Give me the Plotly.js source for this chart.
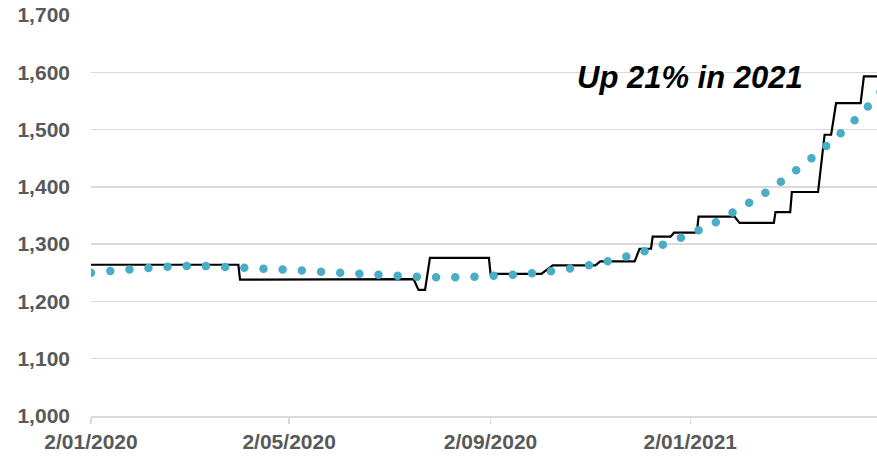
<!DOCTYPE html>
<html>
<head>
<meta charset="utf-8">
<script src="https://cdn.plot.ly/plotly-3.0.1.min.js"></script>
<style>
  html, body { margin: 0; padding: 0; background: #ffffff; }
  #chart { width: 877px; height: 457px; }
  .scatterlayer .js-line { stroke-linecap: round; }
</style>
</head>
<body>
<div id="chart"></div>
<script>
// Black step series (price level)
const stepDates = [
  '2020-01-02', '2020-04-01', '2020-04-02', '2020-07-17', '2020-07-20', '2020-07-24',
  '2020-07-27', '2020-09-01', '2020-09-02', '2020-10-03', '2020-10-10', '2020-11-05',
  '2020-11-08', '2020-11-29', '2020-12-02', '2020-12-09', '2020-12-10', '2020-12-21',
  '2020-12-23', '2021-01-06', '2021-01-07', '2021-01-29', '2021-02-01', '2021-02-22',
  '2021-02-23', '2021-03-04', '2021-03-05', '2021-03-21', '2021-03-25', '2021-03-29',
  '2021-04-01', '2021-04-16', '2021-04-18', '2021-04-30'
];
const stepValues = [
  1264, 1264, 1238, 1239, 1220, 1220,
  1276, 1276, 1248, 1248, 1263, 1263,
  1270, 1270, 1292, 1292, 1313, 1313,
  1320, 1320, 1348, 1348, 1337, 1337,
  1356, 1356, 1391, 1391, 1491, 1491,
  1546, 1546, 1593, 1593
];

// Blue dotted trend series
const trendDates = [
  '2020-01-02', '2020-02-02', '2020-03-02', '2020-04-02', '2020-05-02', '2020-06-02',
  '2020-07-02', '2020-08-02', '2020-09-02', '2020-10-02', '2020-11-02', '2020-12-02',
  '2021-01-02', '2021-01-17', '2021-02-02', '2021-02-16', '2021-03-02', '2021-03-17',
  '2021-04-02', '2021-04-16', '2021-04-30'
];
const trendValues = [
  1250, 1257.5, 1262, 1259, 1255, 1250,
  1245.5, 1242, 1244.5, 1250.5, 1263.5, 1285,
  1318, 1337.5, 1364, 1388, 1417, 1450,
  1489, 1527, 1572
];

// Axis ticks
const tickDates = ['2020-01-02', '2020-05-02', '2020-09-02', '2021-01-02'];
const tickLabels = ['2/01/2020', '2/05/2020', '2/09/2020', '2/01/2021'];
const yTicks = [1000, 1100, 1200, 1300, 1400, 1500, 1600, 1700];

const annotationText = 'Up 21% in 2021';

const traces = [
  {
    x: stepDates, y: stepValues, type: 'scatter', mode: 'lines',
    line: { color: '#000000', width: 2.2 },
    hoverinfo: 'skip', showlegend: false
  },
  {
    x: trendDates, y: trendValues, type: 'scatter', mode: 'lines',
    line: { color: '#4BACC6', width: 8.5, dash: '0px,19.2px', shape: 'spline', smoothing: 1 },
    hoverinfo: 'skip', showlegend: false
  }
];

const tickFont = { family: '"Liberation Sans", Arial, sans-serif', size: 21, color: '#595959', weight: 'bold' };

const layout = {
  width: 877, height: 457,
  margin: { l: 91, r: 0, t: 15, b: 41 },
  paper_bgcolor: '#ffffff', plot_bgcolor: '#ffffff',
  showlegend: false,
  xaxis: {
    type: 'date',
    range: ['2020-01-02', '2021-04-26'],
    tickmode: 'array', tickvals: tickDates, ticktext: tickLabels,
    ticks: 'outside', ticklen: 6, tickwidth: 1.5, tickcolor: '#d9d9d9',
    showgrid: false, zeroline: false,
    showline: true, linecolor: '#d9d9d9', linewidth: 1.5,
    tickfont: tickFont, tickangle: 0
  },
  yaxis: {
    range: [1000, 1700],
    tickmode: 'array', tickvals: yTicks,
    tickformat: ',d',
    showgrid: true, gridcolor: '#d9d9d9', gridwidth: 1.5,
    zeroline: false, showline: false, ticks: '',
    ticklabelstandoff: 20,
    tickfont: tickFont
  },
  annotations: [{
    x: '2021-01-02', y: 1591, xref: 'x', yref: 'y',
    text: annotationText, showarrow: false,
    font: { family: '"Liberation Sans", Arial, sans-serif', size: 31, color: '#000000', weight: 'bold', style: 'italic' },
    xanchor: 'center', yanchor: 'middle'
  }]
};

Plotly.newPlot('chart', traces, layout, { displayModeBar: false, staticPlot: true });
</script>
</body>
</html>
